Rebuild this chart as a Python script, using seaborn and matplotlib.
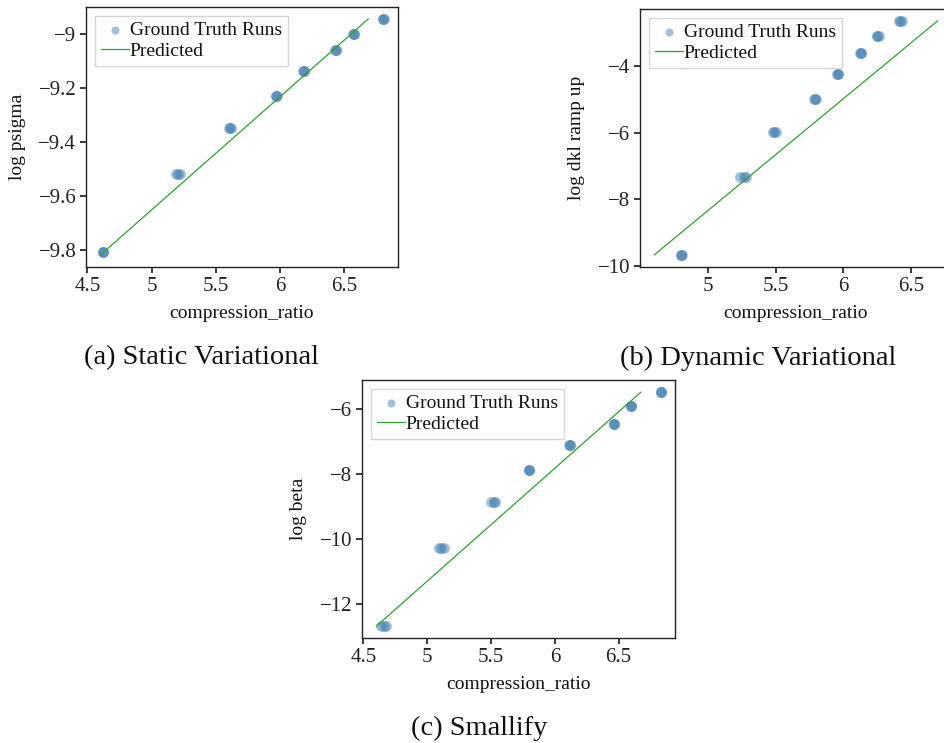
import matplotlib
matplotlib.use("Agg")
import matplotlib.pyplot as plt
from matplotlib.ticker import FuncFormatter, MultipleLocator
import seaborn as sns
import pandas as pd

# Static variational: ground-truth runs (several seeds per setting)
static_ratio = [4.62, 4.62, 4.62, 5.19, 5.21, 5.22, 5.60, 5.61, 5.62,
                5.97, 5.97, 5.98, 6.18, 6.19, 6.19, 6.43, 6.44, 6.44,
                6.57, 6.58, 6.58, 6.80, 6.80, 6.81]
static_log_psigma = [-9.81, -9.81, -9.81, -9.52, -9.52, -9.52, -9.35, -9.35, -9.35,
                     -9.23, -9.23, -9.23, -9.137, -9.137, -9.137, -9.062, -9.062, -9.062,
                     -9.0, -9.0, -9.0, -8.945, -8.945, -8.945]
static_pred_ratio = [4.60, 6.69]
static_pred_log_psigma = [-9.82, -8.945]

# Dynamic variational
dynamic_ratio = [4.80, 4.80, 4.81, 5.24, 5.27, 5.28, 5.48, 5.49, 5.50,
                 5.78, 5.79, 5.80, 5.95, 5.96, 5.96, 6.12, 6.13, 6.13,
                 6.25, 6.25, 6.26, 6.41, 6.42, 6.43]
dynamic_log_dkl = [-9.68, -9.68, -9.68, -7.33, -7.33, -7.33, -5.96, -5.96, -5.96,
                   -4.98, -4.98, -4.98, -4.22, -4.22, -4.22, -3.61, -3.61, -3.61,
                   -3.08, -3.08, -3.08, -2.63, -2.63, -2.63]
dynamic_pred_ratio = [4.605, 6.696]
dynamic_pred_log_dkl = [-9.67, -2.63]

# Smallify
smallify_ratio = [4.64, 4.66, 4.68, 5.09, 5.11, 5.13, 5.50, 5.52, 5.53,
                  5.80, 5.80, 5.80, 6.11, 6.12, 6.12, 6.46, 6.46, 6.46,
                  6.60, 6.60, 6.60, 6.83, 6.83, 6.83]
smallify_log_beta = [-12.69, -12.69, -12.69, -10.29, -10.29, -10.29, -8.87, -8.87, -8.87,
                     -7.87, -7.87, -7.87, -7.10, -7.10, -7.10, -6.46, -6.46, -6.46,
                     -5.92, -5.92, -5.92, -5.47, -5.47, -5.47]
smallify_pred_ratio = [4.60, 6.675]
smallify_pred_log_beta = [-12.70, -5.48]

captions = ["(a) Static Variational", "(b) Dynamic Variational", "(c) Smallify"]
ylabels = ["log psigma", "log dkl ramp up", "log beta"]
x_tick_step = 0.5
y_tick_steps = [0.2, 2, 2]

sns.set_theme(style="ticks")
plt.rcParams["font.family"] = ["Liberation Serif", "DejaVu Serif"]
plt.rcParams.update({
    "axes.edgecolor": "#222222",
    "axes.linewidth": 1.0,
    "xtick.color": "#222222",
    "ytick.color": "#222222",
    "xtick.major.size": 4,
    "ytick.major.size": 4,
    "axes.labelcolor": "#111111",
    "text.color": "#111111",
})

W, H = 944, 743
fig = plt.figure(figsize=(W / 100, H / 100), dpi=100)


def px_axes(left, top, width, height):
    return fig.add_axes([left / W, 1 - (top + height) / H, width / W, height / H])


def short_num(v, _pos):
    s = f"{round(v, 6):g}"
    return s.replace("-", "\u2212")


panels = [
    (px_axes(86, 7, 312, 260), static_ratio, static_log_psigma,
     static_pred_ratio, static_pred_log_psigma),
    (px_axes(640, 9, 312, 258), dynamic_ratio, dynamic_log_dkl,
     dynamic_pred_ratio, dynamic_pred_log_dkl),
    (px_axes(362, 380, 313, 258), smallify_ratio, smallify_log_beta,
     smallify_pred_ratio, smallify_pred_log_beta),
]

for (ax, xs, ys, px, py), ylab, ystep in zip(panels, ylabels, y_tick_steps):
    runs = pd.DataFrame({"compression_ratio": xs, "value": ys})
    pred = pd.DataFrame({"compression_ratio": px, "value": py})
    sns.scatterplot(data=runs, x="compression_ratio", y="value", ax=ax,
                    color="#4682b4", alpha=0.5, s=60, linewidth=0,
                    label="Ground Truth Runs")
    sns.lineplot(data=pred, x="compression_ratio", y="value", ax=ax,
                 color="#2ca02c", linewidth=0.9, label="Predicted")
    ax.set_xlabel("compression_ratio", fontsize=14, labelpad=6.5)
    ax.set_ylabel(ylab, fontsize=14, labelpad=9)
    ax.tick_params(labelsize=15, pad=3)
    ax.xaxis.set_major_locator(MultipleLocator(x_tick_step))
    ax.yaxis.set_major_locator(MultipleLocator(ystep))
    ax.xaxis.set_major_formatter(FuncFormatter(short_num))
    ax.yaxis.set_major_formatter(FuncFormatter(short_num))
    for side in ["top", "right"]:
        ax.spines[side].set_visible(True)
    leg = ax.legend(loc="upper left", fontsize=14, frameon=True, fancybox=False,
                    markerscale=0.75, handlelength=1.45, handletextpad=0.05,
                    borderpad=0.3, labelspacing=0.15, borderaxespad=0.45)
    leg.get_frame().set_edgecolor("#cccccc")
    leg.get_frame().set_linewidth(1.0)

fig.text(201 / W, 1 - 358 / H, captions[0], ha="center", va="center", fontsize=20.5)
fig.text(758 / W, 1 - 358 / H, captions[1], ha="center", va="center", fontsize=20.5)
fig.text(479 / W, 1 - 728 / H, captions[2], ha="center", va="center", fontsize=20.5)

fig.savefig("out.png", dpi=100)
